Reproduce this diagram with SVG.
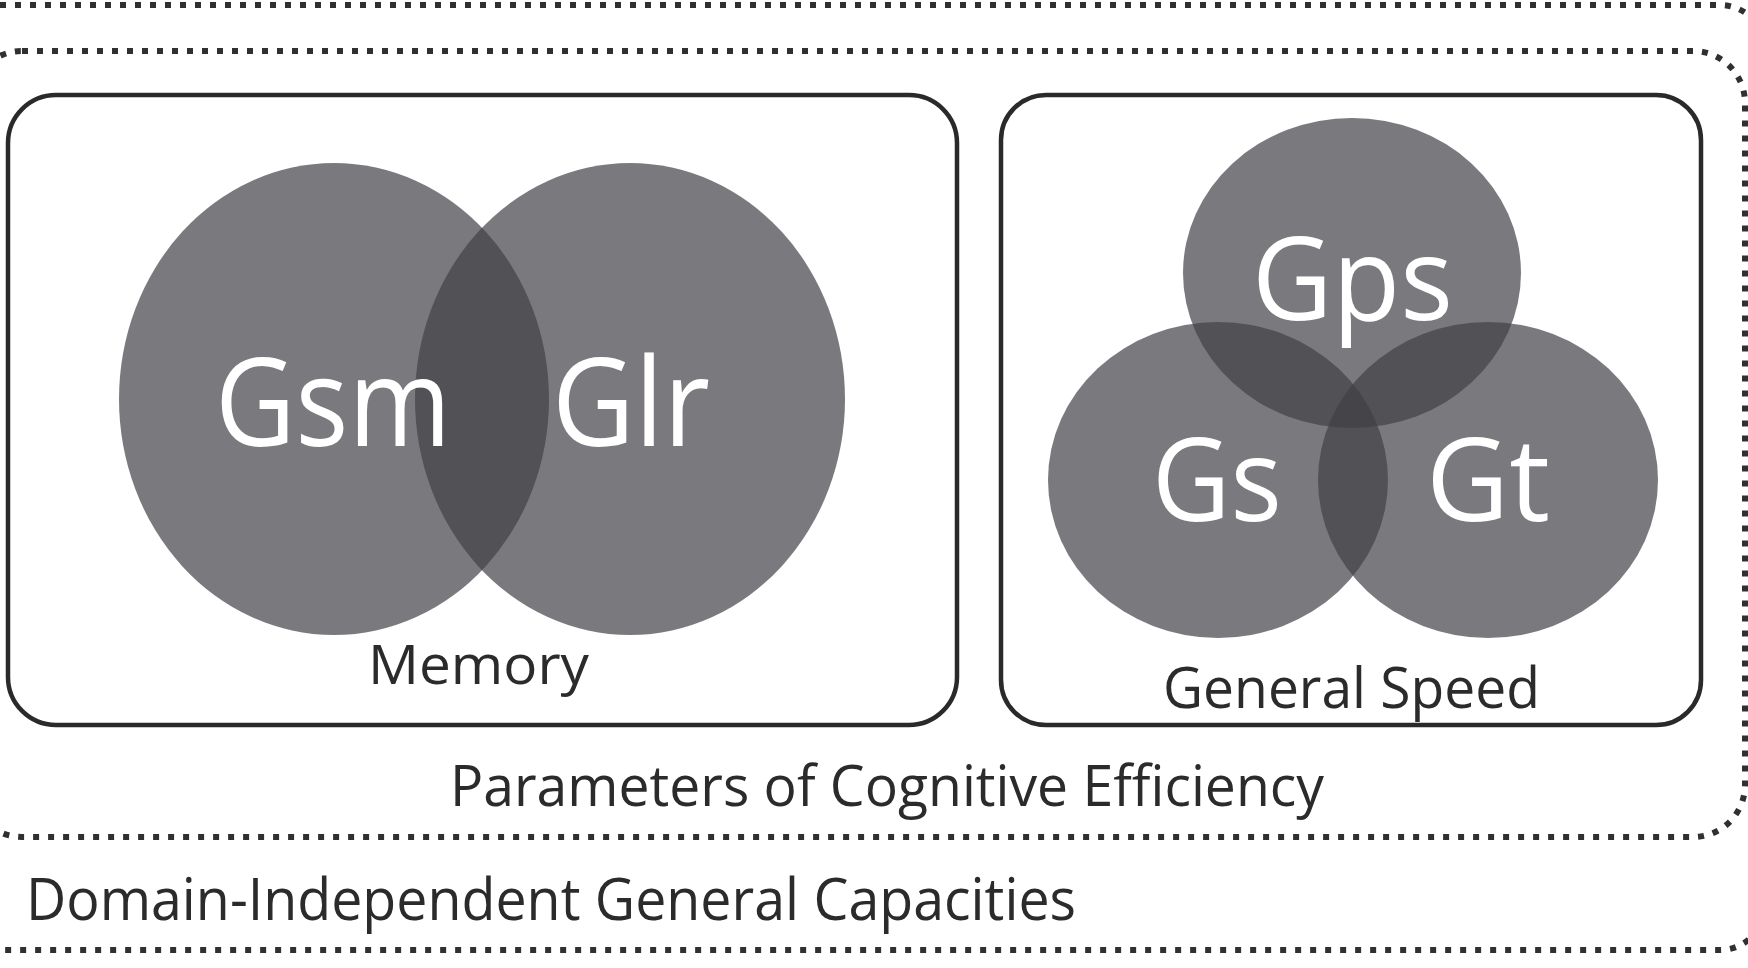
<svg xmlns="http://www.w3.org/2000/svg" width="1748" height="968" viewBox="0 0 1748 968">
  <style>
    .dotted { fill: none; stroke: #303032; stroke-width: 6; stroke-dasharray: 6 9; }
    .box { fill: #ffffff; stroke: #2a2a2b; stroke-width: 4.5; }
    .blob { fill: #3e3f44; fill-opacity: 0.69; }
    .big { font-family: "Open Sans", "Liberation Sans", sans-serif; fill: #ffffff; }
    .label { font-family: "Open Sans", "Liberation Sans", sans-serif; fill: #2b2b2c; }
  </style>
  <rect x="0" y="0" width="1748" height="968" fill="#ffffff"/>

  <g id="domain-independent-general-capacities">
    <rect class="dotted" x="-60" y="5" width="1825" height="945" rx="45" ry="45"/>
    <text class="label" x="26" y="920" font-size="58" textLength="1050" lengthAdjust="spacingAndGlyphs">Domain-Independent General Capacities</text>
  </g>

  <g id="parameters-of-cognitive-efficiency">
    <rect class="dotted" x="-30" y="51" width="1775" height="786" rx="52" ry="52"/>
    <text class="label" x="450" y="806" font-size="56" textLength="874" lengthAdjust="spacingAndGlyphs">Parameters of Cognitive Efficiency</text>
  </g>

  <g id="memory">
    <rect class="box" x="8" y="95" width="949" height="630" rx="48" ry="48"/>
    <text class="label" x="368" y="684" font-size="54" textLength="221" lengthAdjust="spacingAndGlyphs">Memory</text>
  </g>
  <g id="gsm">
    <ellipse class="blob" cx="334" cy="399" rx="215" ry="236"/>
  </g>
  <g id="glr">
    <ellipse class="blob" cx="630" cy="399" rx="215" ry="236"/>
  </g>
  <text class="big" x="215" y="446" font-size="122" textLength="236" lengthAdjust="spacingAndGlyphs">Gsm</text>
  <text class="big" x="552" y="446" font-size="122" textLength="158" lengthAdjust="spacingAndGlyphs">Glr</text>

  <g id="general-speed">
    <rect class="box" x="1001" y="95" width="700" height="630" rx="45" ry="45"/>
    <text class="label" x="1163" y="708" font-size="56" textLength="377" lengthAdjust="spacingAndGlyphs">General Speed</text>
  </g>
  <g id="gps">
    <ellipse class="blob" cx="1352" cy="273" rx="169" ry="155"/>
  </g>
  <g id="gs">
    <ellipse class="blob" cx="1218" cy="480" rx="170" ry="158"/>
  </g>
  <g id="gt">
    <ellipse class="blob" cx="1488" cy="480" rx="170" ry="158"/>
  </g>
  <text class="big" x="1252" y="320" font-size="116" textLength="201" lengthAdjust="spacingAndGlyphs">Gps</text>
  <text class="big" x="1152" y="521" font-size="116" textLength="130" lengthAdjust="spacingAndGlyphs">Gs</text>
  <text class="big" x="1426" y="521" font-size="116" textLength="124" lengthAdjust="spacingAndGlyphs">Gt</text>

  <g id="connectors"/>
</svg>
